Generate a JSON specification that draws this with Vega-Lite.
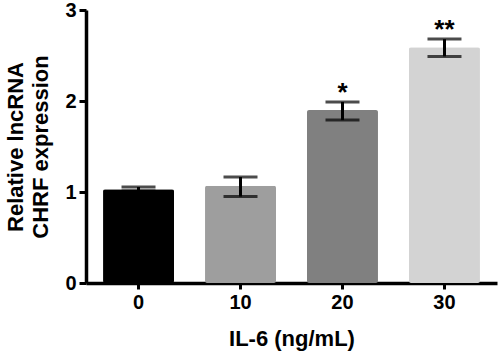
{
  "$schema": "https://vega.github.io/schema/vega-lite/v6.json",
  "width": 411,
  "height": 273,
  "autosize": {"type": "none"},
  "padding": {"left": 86, "top": 10, "right": 3, "bottom": 75},
  "background": "white",
  "config": {"view": {"stroke": null}, "font": "Liberation Sans"},
  "data": {
    "values": [
      {"dose": "0", "mean": 1.03, "lo": 1.01, "hi": 1.055, "color": "#000000", "sig": ""},
      {"dose": "10", "mean": 1.07, "lo": 0.95, "hi": 1.165, "color": "#9e9e9e", "sig": ""},
      {"dose": "20", "mean": 1.9, "lo": 1.79, "hi": 1.99, "color": "#808080", "sig": "*"},
      {"dose": "30", "mean": 2.59, "lo": 2.49, "hi": 2.68, "color": "#d3d3d3", "sig": "**"}
    ]
  },
  "encoding": {
    "x": {
      "field": "dose",
      "type": "ordinal",
      "sort": null,
      "scale": {"paddingInner": 0.304, "paddingOuter": 0.167},
      "axis": {
        "title": "IL-6 (ng/mL)",
        "labelAngle": 0,
        "labelFont": "Liberation Sans",
        "labelFontWeight": "bold",
        "labelFontSize": 20,
        "labelColor": "black",
        "labelPadding": 3,
        "titleFont": "Liberation Sans",
        "titleFontWeight": "bold",
        "titleFontSize": 22,
        "titleColor": "black",
        "titlePadding": 16,
        "domainColor": "black",
        "domainWidth": 3.5,
        "tickColor": "black",
        "tickWidth": 3,
        "tickSize": 6,
        "grid": false
      }
    }
  },
  "layer": [
    {
      "mark": {"type": "bar", "cornerRadius": 2},
      "encoding": {
        "y": {
          "field": "mean",
          "type": "quantitative",
          "scale": {"domain": [0, 3], "nice": false},
          "axis": {
            "title": ["Relative lncRNA", "CHRF expression"],
            "values": [0, 1, 2, 3],
            "format": "d",
            "labelFont": "Liberation Sans",
            "labelFontWeight": "bold",
            "labelFontSize": 20,
            "labelColor": "black",
            "labelPadding": 3,
            "titleFont": "Liberation Sans",
            "titleFontWeight": "bold",
            "titleFontSize": 22,
            "titleColor": "black",
            "titlePadding": 12,
            "titleLineHeight": 25,
            "domainColor": "black",
            "domainWidth": 3.5,
            "tickColor": "black",
            "tickWidth": 3,
            "tickSize": 7,
            "grid": false
          }
        },
        "color": {"field": "color", "type": "nominal", "scale": null}
      }
    },
    {
      "mark": {"type": "rule", "color": "black", "strokeWidth": 3},
      "encoding": {
        "y": {"field": "lo", "type": "quantitative"},
        "y2": {"field": "hi"}
      }
    },
    {
      "mark": {"type": "tick", "color": "black", "size": 34, "thickness": 3},
      "encoding": {"y": {"field": "lo", "type": "quantitative"}}
    },
    {
      "mark": {"type": "tick", "color": "black", "size": 34, "thickness": 3},
      "encoding": {"y": {"field": "hi", "type": "quantitative"}}
    },
    {
      "mark": {"type": "text", "font": "Liberation Sans", "fontWeight": "bold", "fontSize": 26, "baseline": "alphabetic", "dy": -1, "color": "black"},
      "encoding": {
        "y": {"field": "hi", "type": "quantitative"},
        "text": {"field": "sig"}
      }
    }
  ]
}
